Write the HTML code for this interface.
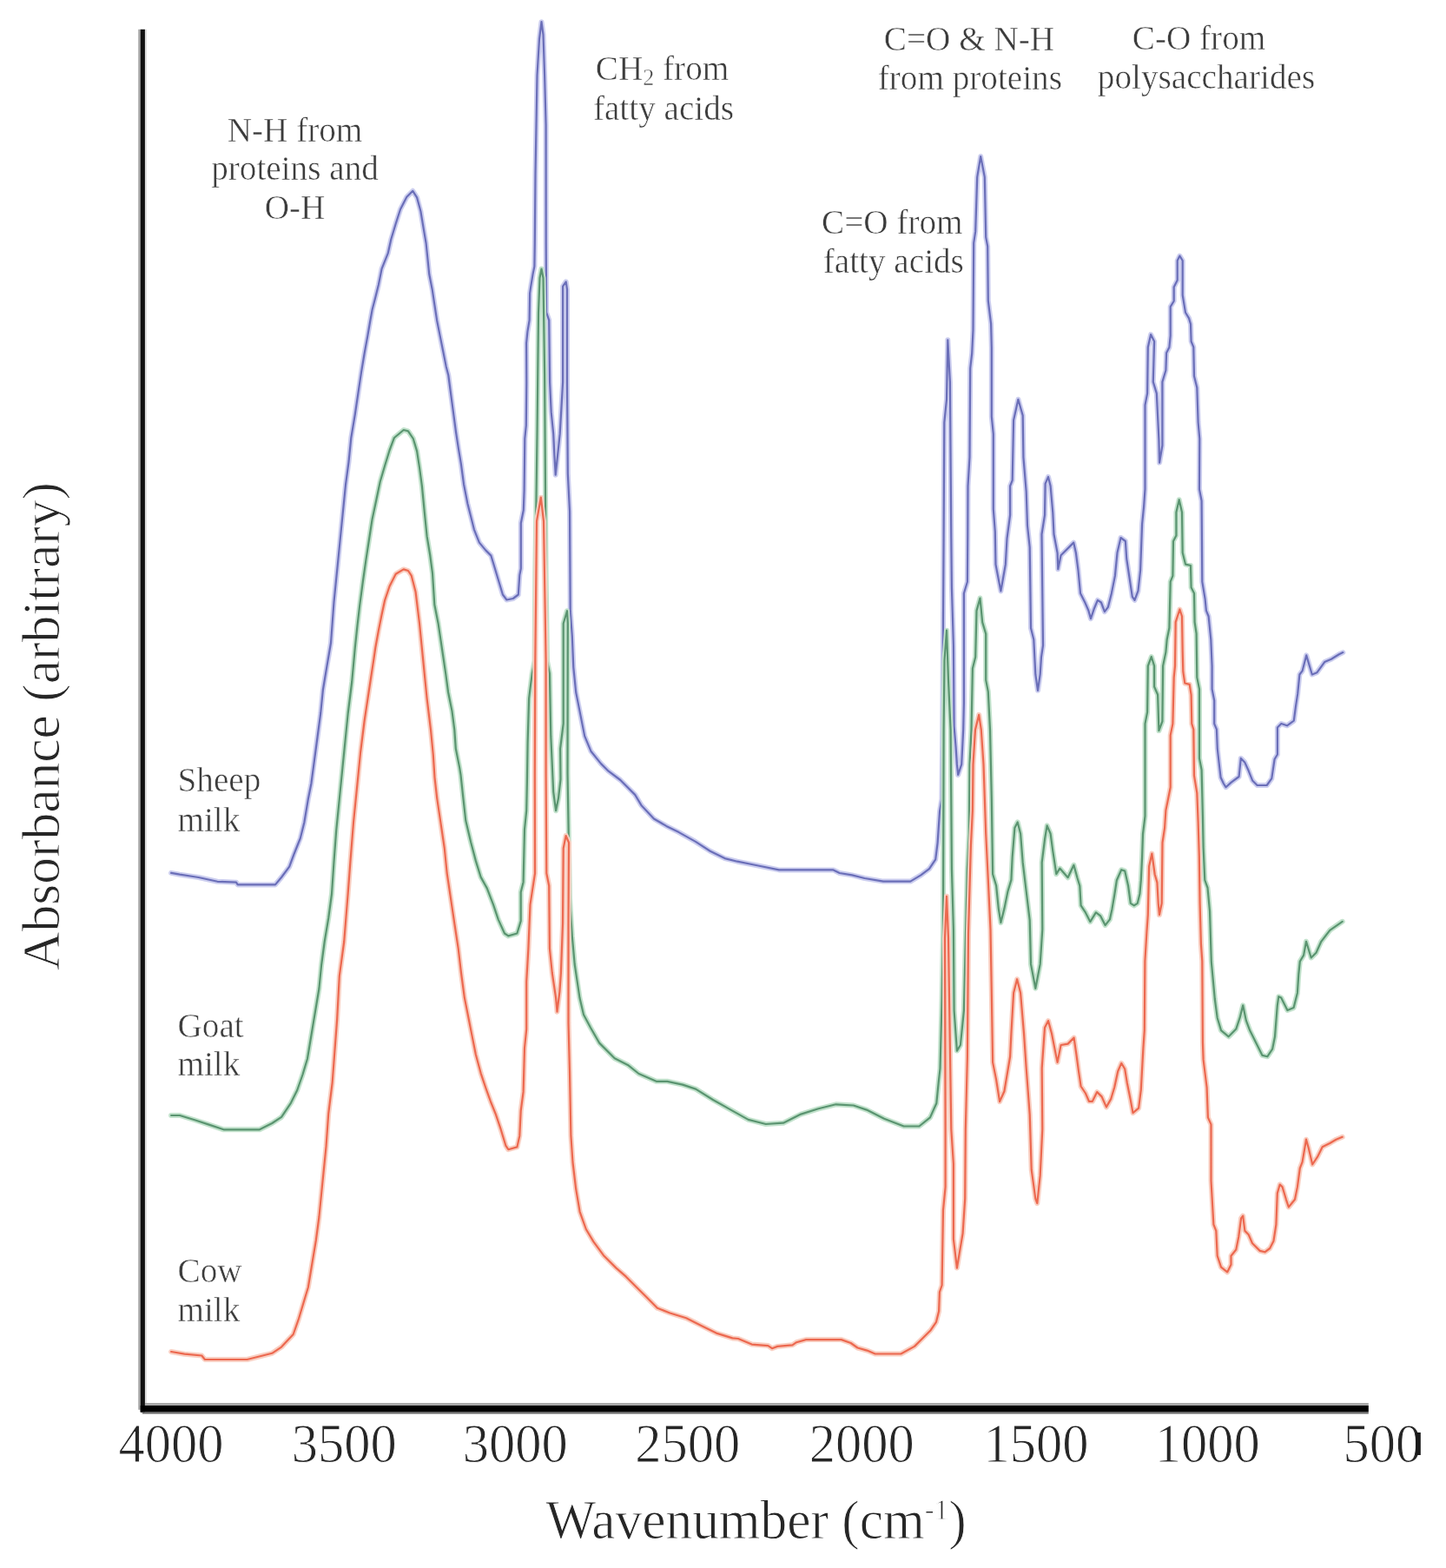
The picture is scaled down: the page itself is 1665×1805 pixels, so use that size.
<!DOCTYPE html>
<html><head><meta charset="utf-8"><title>FTIR spectra of milk</title>
<style>
html,body{margin:0;padding:0;background:#fff;}
body{width:1665px;height:1805px;overflow:hidden;}
svg{display:block;filter:blur(0.45px);}
text{font-family:'Liberation Serif', 'Times New Roman', serif;}
</style></head>
<body>
<svg width="1665" height="1805" viewBox="0 0 1665 1805">
<rect width="1665" height="1805" fill="#fff"/>
<polyline points="197.1,1004.9 207.0,1006.7 228.6,1010.0 250.3,1014.8 271.9,1015.7 273.7,1018.4 317.0,1018.4 324.0,1010.0 333.2,997.7 338.6,983.0 345.8,965.0 350.3,947.0 354.8,920.0 358.4,902.0 362.0,875.0 365.6,848.0 369.2,821.0 371.9,794.0 376.4,767.0 381.0,740.0 384.5,693.0 387.2,666.0 389.9,639.0 392.6,612.0 395.3,585.0 398.0,558.0 401.6,531.0 404.3,504.0 408.8,477.0 413.3,446.7 416.0,428.6 419.6,407.0 423.2,387.2 426.0,371.0 428.6,356.6 432.3,342.2 435.9,327.7 439.5,309.7 446.7,291.7 450.3,275.5 455.7,257.5 461.0,241.0 468.3,226.8 475.3,219.8 480.1,227.4 484.4,243.2 488.0,264.9 490.6,280.0 492.4,297.7 494.2,315.5 497.7,333.2 500.4,351.0 503.1,368.7 506.6,386.4 510.2,404.2 513.7,421.9 516.3,432.0 519.0,452.5 522.0,474.9 525.0,497.4 528.0,516.8 531.0,534.8 534.0,557.2 538.4,579.7 542.2,594.7 545.9,609.6 551.9,624.6 559.4,633.6 565.4,639.6 569.9,654.5 574.4,669.5 578.9,684.5 583.4,690.5 590.8,689.0 596.8,684.5 598.3,662.0 599.8,654.5 599.8,602.2 602.8,587.2 603.6,564.7 604.3,504.9 605.8,489.9 606.3,440.0 606.1,395.2 607.4,381.9 609.6,368.6 610.1,337.6 611.0,331.4 613.6,315.4 615.4,306.6 615.8,280.0 616.5,200.0 618.5,86.5 621.0,45.0 623.5,25.2 625.5,40.0 627.1,86.5 628.6,144.0 628.7,280.0 629.1,359.7 632.2,368.6 633.1,440.0 634.7,474.4 637.2,499.4 638.4,524.3 639.7,546.7 643.4,511.8 644.7,499.4 648.1,440.0 648.1,329.6 651.7,324.3 653.0,333.1 653.0,440.0 653.8,545.3 656.0,588.6 656.5,670.0 656.7,703.2 658.8,732.0 660.3,768.1 663.2,797.0 667.5,818.6 673.2,847.4 680.4,864.7 692.0,879.1 700.6,887.7 714.4,898.0 731.2,914.9 738.4,926.9 752.9,942.5 767.3,950.9 781.7,958.1 800.9,968.9 817.7,979.7 834.5,988.1 849.0,991.7 873.0,996.5 897.0,1001.4 959.5,1001.4 966.7,1005.0 981.1,1007.4 995.5,1011.0 1017.1,1014.6 1048.3,1014.6 1060.4,1007.4 1070.0,1000.2 1077.2,989.3 1079.6,970.1 1082.0,934.1 1084.4,919.7 1085.3,840.0 1086.0,716.4 1086.6,620.0 1087.3,486.4 1090.0,459.8 1091.3,391.3 1093.9,439.8 1095.3,620.0 1095.9,676.5 1097.9,743.0 1098.6,836.0 1100.6,860.0 1101.9,879.9 1103.2,891.9 1107.2,879.9 1109.2,840.0 1109.9,809.5 1109.9,683.0 1113.9,669.8 1114.3,615.0 1114.5,559.5 1116.5,526.3 1117.2,423.9 1119.2,406.6 1120.5,380.0 1121.2,279.7 1123.2,266.4 1125.2,203.9 1129.2,180.0 1133.8,203.9 1135.2,273.0 1137.2,283.7 1137.8,346.2 1141.1,372.8 1141.8,400.0 1141.8,479.7 1143.8,499.7 1143.8,586.1 1145.8,612.0 1146.5,649.9 1152.4,680.5 1157.8,649.9 1159.5,620.0 1163.1,592.8 1163.1,559.5 1165.7,552.9 1167.1,483.7 1172.4,459.8 1177.7,478.4 1178.4,526.3 1181.7,566.2 1183.0,605.0 1185.7,630.0 1187.0,723.0 1190.3,736.3 1192.3,776.2 1195.0,794.8 1197.7,776.2 1199.0,756.3 1201.0,743.0 1199.5,615.0 1203.0,592.8 1203.6,556.9 1207.0,548.9 1209.6,559.5 1212.3,590.1 1213.5,615.0 1217.6,636.6 1218.3,655.2 1221.6,639.3 1236.2,624.6 1238.9,636.6 1241.5,656.5 1244.0,682.9 1249.3,693.5 1253.3,702.8 1256.0,712.1 1260.0,700.2 1263.9,690.9 1267.9,693.5 1271.9,704.1 1275.9,698.8 1279.9,682.9 1283.9,662.9 1286.5,636.3 1290.5,619.0 1295.9,623.0 1297.2,643.0 1301.2,669.6 1303.8,686.9 1306.5,690.9 1310.5,680.2 1313.1,656.3 1315.1,603.1 1317.1,583.1 1318.5,563.2 1318.5,510.0 1318.5,466.2 1321.1,452.9 1321.8,399.7 1325.1,385.1 1329.1,393.0 1327.8,439.6 1331.8,452.9 1334.4,506.1 1335.1,532.6 1338.4,512.7 1338.4,439.6 1342.4,426.3 1343.1,406.3 1346.4,399.7 1347.7,386.4 1347.7,353.1 1351.7,346.5 1351.7,330.5 1355.7,322.6 1355.7,300.0 1358.4,294.6 1361.7,300.0 1361.7,339.8 1365.0,359.8 1369.0,366.4 1371.0,373.1 1371.6,393.0 1374.3,399.7 1375.0,432.9 1378.3,446.2 1379.6,486.1 1381.3,505.0 1381.0,563.2 1383.6,576.5 1384.3,669.6 1387.6,689.5 1388.9,702.8 1391.6,709.5 1394.3,736.1 1395.6,766.6 1395.6,793.2 1398.2,806.5 1398.2,833.1 1400.9,839.7 1401.8,862.0 1404.4,885.0 1405.6,895.0 1408.9,902.0 1411.5,906.2 1417.7,900.6 1426.6,894.0 1428.8,872.9 1433.2,877.4 1437.7,887.3 1442.1,898.4 1447.6,904.0 1458.7,904.0 1464.3,896.2 1467.6,874.0 1470.9,868.5 1470.9,837.5 1475.3,833.0 1482.0,835.3 1489.8,829.7 1492.0,813.1 1494.2,798.7 1496.4,776.5 1499.7,772.1 1504.2,754.4 1510.8,776.5 1516.3,774.3 1525.2,762.1 1532.9,758.8 1541.8,753.3 1546.3,751.1" fill="none" stroke="#ccceef" stroke-width="6" stroke-linejoin="round" stroke-linecap="round"/><polyline points="197.1,1004.9 207.0,1006.7 228.6,1010.0 250.3,1014.8 271.9,1015.7 273.7,1018.4 317.0,1018.4 324.0,1010.0 333.2,997.7 338.6,983.0 345.8,965.0 350.3,947.0 354.8,920.0 358.4,902.0 362.0,875.0 365.6,848.0 369.2,821.0 371.9,794.0 376.4,767.0 381.0,740.0 384.5,693.0 387.2,666.0 389.9,639.0 392.6,612.0 395.3,585.0 398.0,558.0 401.6,531.0 404.3,504.0 408.8,477.0 413.3,446.7 416.0,428.6 419.6,407.0 423.2,387.2 426.0,371.0 428.6,356.6 432.3,342.2 435.9,327.7 439.5,309.7 446.7,291.7 450.3,275.5 455.7,257.5 461.0,241.0 468.3,226.8 475.3,219.8 480.1,227.4 484.4,243.2 488.0,264.9 490.6,280.0 492.4,297.7 494.2,315.5 497.7,333.2 500.4,351.0 503.1,368.7 506.6,386.4 510.2,404.2 513.7,421.9 516.3,432.0 519.0,452.5 522.0,474.9 525.0,497.4 528.0,516.8 531.0,534.8 534.0,557.2 538.4,579.7 542.2,594.7 545.9,609.6 551.9,624.6 559.4,633.6 565.4,639.6 569.9,654.5 574.4,669.5 578.9,684.5 583.4,690.5 590.8,689.0 596.8,684.5 598.3,662.0 599.8,654.5 599.8,602.2 602.8,587.2 603.6,564.7 604.3,504.9 605.8,489.9 606.3,440.0 606.1,395.2 607.4,381.9 609.6,368.6 610.1,337.6 611.0,331.4 613.6,315.4 615.4,306.6 615.8,280.0 616.5,200.0 618.5,86.5 621.0,45.0 623.5,25.2 625.5,40.0 627.1,86.5 628.6,144.0 628.7,280.0 629.1,359.7 632.2,368.6 633.1,440.0 634.7,474.4 637.2,499.4 638.4,524.3 639.7,546.7 643.4,511.8 644.7,499.4 648.1,440.0 648.1,329.6 651.7,324.3 653.0,333.1 653.0,440.0 653.8,545.3 656.0,588.6 656.5,670.0 656.7,703.2 658.8,732.0 660.3,768.1 663.2,797.0 667.5,818.6 673.2,847.4 680.4,864.7 692.0,879.1 700.6,887.7 714.4,898.0 731.2,914.9 738.4,926.9 752.9,942.5 767.3,950.9 781.7,958.1 800.9,968.9 817.7,979.7 834.5,988.1 849.0,991.7 873.0,996.5 897.0,1001.4 959.5,1001.4 966.7,1005.0 981.1,1007.4 995.5,1011.0 1017.1,1014.6 1048.3,1014.6 1060.4,1007.4 1070.0,1000.2 1077.2,989.3 1079.6,970.1 1082.0,934.1 1084.4,919.7 1085.3,840.0 1086.0,716.4 1086.6,620.0 1087.3,486.4 1090.0,459.8 1091.3,391.3 1093.9,439.8 1095.3,620.0 1095.9,676.5 1097.9,743.0 1098.6,836.0 1100.6,860.0 1101.9,879.9 1103.2,891.9 1107.2,879.9 1109.2,840.0 1109.9,809.5 1109.9,683.0 1113.9,669.8 1114.3,615.0 1114.5,559.5 1116.5,526.3 1117.2,423.9 1119.2,406.6 1120.5,380.0 1121.2,279.7 1123.2,266.4 1125.2,203.9 1129.2,180.0 1133.8,203.9 1135.2,273.0 1137.2,283.7 1137.8,346.2 1141.1,372.8 1141.8,400.0 1141.8,479.7 1143.8,499.7 1143.8,586.1 1145.8,612.0 1146.5,649.9 1152.4,680.5 1157.8,649.9 1159.5,620.0 1163.1,592.8 1163.1,559.5 1165.7,552.9 1167.1,483.7 1172.4,459.8 1177.7,478.4 1178.4,526.3 1181.7,566.2 1183.0,605.0 1185.7,630.0 1187.0,723.0 1190.3,736.3 1192.3,776.2 1195.0,794.8 1197.7,776.2 1199.0,756.3 1201.0,743.0 1199.5,615.0 1203.0,592.8 1203.6,556.9 1207.0,548.9 1209.6,559.5 1212.3,590.1 1213.5,615.0 1217.6,636.6 1218.3,655.2 1221.6,639.3 1236.2,624.6 1238.9,636.6 1241.5,656.5 1244.0,682.9 1249.3,693.5 1253.3,702.8 1256.0,712.1 1260.0,700.2 1263.9,690.9 1267.9,693.5 1271.9,704.1 1275.9,698.8 1279.9,682.9 1283.9,662.9 1286.5,636.3 1290.5,619.0 1295.9,623.0 1297.2,643.0 1301.2,669.6 1303.8,686.9 1306.5,690.9 1310.5,680.2 1313.1,656.3 1315.1,603.1 1317.1,583.1 1318.5,563.2 1318.5,510.0 1318.5,466.2 1321.1,452.9 1321.8,399.7 1325.1,385.1 1329.1,393.0 1327.8,439.6 1331.8,452.9 1334.4,506.1 1335.1,532.6 1338.4,512.7 1338.4,439.6 1342.4,426.3 1343.1,406.3 1346.4,399.7 1347.7,386.4 1347.7,353.1 1351.7,346.5 1351.7,330.5 1355.7,322.6 1355.7,300.0 1358.4,294.6 1361.7,300.0 1361.7,339.8 1365.0,359.8 1369.0,366.4 1371.0,373.1 1371.6,393.0 1374.3,399.7 1375.0,432.9 1378.3,446.2 1379.6,486.1 1381.3,505.0 1381.0,563.2 1383.6,576.5 1384.3,669.6 1387.6,689.5 1388.9,702.8 1391.6,709.5 1394.3,736.1 1395.6,766.6 1395.6,793.2 1398.2,806.5 1398.2,833.1 1400.9,839.7 1401.8,862.0 1404.4,885.0 1405.6,895.0 1408.9,902.0 1411.5,906.2 1417.7,900.6 1426.6,894.0 1428.8,872.9 1433.2,877.4 1437.7,887.3 1442.1,898.4 1447.6,904.0 1458.7,904.0 1464.3,896.2 1467.6,874.0 1470.9,868.5 1470.9,837.5 1475.3,833.0 1482.0,835.3 1489.8,829.7 1492.0,813.1 1494.2,798.7 1496.4,776.5 1499.7,772.1 1504.2,754.4 1510.8,776.5 1516.3,774.3 1525.2,762.1 1532.9,758.8 1541.8,753.3 1546.3,751.1" fill="none" stroke="#6a6eb8" stroke-width="2.2" stroke-linejoin="round" stroke-linecap="round"/><polyline points="197.1,1284.0 207.0,1284.0 225.0,1289.5 241.3,1294.9 257.5,1300.3 298.9,1300.3 313.3,1293.0 324.1,1285.9 335.0,1269.6 342.2,1255.0 348.5,1237.0 353.9,1219.0 358.4,1192.0 362.9,1165.0 367.4,1138.0 370.1,1111.0 373.7,1084.0 378.2,1057.0 382.0,1029.0 384.5,992.0 387.2,956.0 390.8,920.0 394.4,884.0 398.0,848.0 400.7,821.0 405.2,785.0 408.8,745.5 411.5,720.0 414.2,696.8 417.8,669.8 421.4,644.6 425.0,621.0 428.6,597.7 433.2,576.0 437.7,554.5 443.0,536.5 448.5,518.5 453.9,504.0 464.7,495.0 470.0,496.3 475.8,505.0 480.1,519.4 483.0,538.1 485.9,559.7 488.7,588.6 491.6,617.4 495.2,639.0 498.0,660.0 500.3,696.0 504.6,717.7 508.9,746.5 513.2,775.3 516.1,797.0 520.5,818.6 523.3,840.2 524.8,861.8 529.1,883.4 530.5,892.0 533.4,918.8 536.3,944.8 542.1,969.3 547.8,990.9 553.6,1009.6 560.8,1022.6 568.0,1041.3 573.8,1058.6 581.0,1074.5 585.3,1077.4 595.4,1074.5 599.7,1060.1 599.7,1026.9 602.6,1015.4 604.0,954.9 606.2,933.2 606.9,900.0 607.6,854.6 609.1,804.1 610.5,792.6 612.7,775.3 615.6,760.9 616.3,660.0 618.5,500.0 620.0,360.0 621.5,320.0 623.5,309.5 625.5,320.0 627.1,430.0 628.6,660.0 630.0,760.9 632.9,775.3 634.3,847.4 637.2,911.6 640.1,933.2 643.0,918.8 645.5,897.0 645.1,861.8 648.7,833.0 648.7,717.7 653.0,703.2 653.8,717.7 653.5,890.0 654.5,947.7 656.0,1034.0 658.8,1077.4 661.7,1110.0 667.5,1148.8 672.0,1168.0 680.0,1183.0 690.1,1200.6 707.7,1218.3 722.9,1225.9 735.5,1236.0 755.7,1244.8 768.3,1244.8 786.0,1248.6 801.1,1253.6 821.3,1266.2 841.5,1277.6 861.6,1288.9 881.8,1294.0 902.0,1292.7 922.2,1282.6 942.4,1276.3 962.5,1271.3 982.7,1272.5 997.9,1277.6 1018.0,1287.7 1040.7,1296.5 1058.4,1296.5 1071.0,1286.4 1078.3,1270.0 1080.8,1245.0 1082.5,1230.0 1084.6,1149.8 1086.0,1070.0 1086.6,840.0 1087.5,760.0 1090.0,725.7 1092.0,783.0 1094.6,840.0 1095.9,1000.0 1097.9,1070.0 1098.6,1163.1 1101.9,1209.6 1105.9,1203.0 1109.9,1163.1 1112.0,1075.0 1113.9,999.6 1115.9,959.7 1116.5,880.0 1118.5,840.0 1119.9,769.6 1123.2,756.3 1124.5,703.1 1128.5,688.5 1131.2,716.4 1135.2,729.7 1135.2,782.9 1137.8,796.2 1140.0,840.0 1141.8,919.8 1143.1,1006.2 1147.1,1019.5 1149.8,1046.1 1152.4,1062.1 1156.4,1046.1 1160.4,1026.2 1164.4,1012.9 1165.7,986.3 1168.4,953.0 1171.7,946.4 1175.1,959.7 1177.7,992.9 1181.7,1026.2 1185.7,1059.4 1187.0,1109.9 1192.3,1137.8 1197.7,1109.9 1200.3,1070.0 1199.7,992.9 1203.0,966.3 1205.6,950.4 1209.6,959.7 1212.3,979.6 1216.3,1006.2 1220.3,999.6 1229.6,1010.2 1236.4,995.8 1240.4,1010.3 1243.3,1019.8 1244.6,1042.4 1249.9,1050.4 1255.3,1061.1 1261.9,1050.4 1267.2,1054.4 1272.6,1065.1 1277.9,1058.4 1280.5,1046.4 1283.2,1030.5 1285.9,1013.2 1291.2,1001.2 1295.2,1002.6 1299.1,1019.8 1301.8,1039.8 1305.8,1042.4 1309.8,1039.8 1312.4,1029.1 1313.8,1013.2 1315.1,986.6 1316.0,960.0 1318.5,939.5 1318.5,833.1 1321.1,819.8 1321.8,766.6 1325.8,756.0 1329.1,766.6 1329.1,790.5 1333.1,799.8 1334.4,841.1 1338.4,830.4 1339.1,766.6 1342.4,750.6 1343.7,736.1 1346.4,722.8 1347.7,669.6 1350.4,662.9 1351.0,623.0 1354.4,616.4 1354.4,589.8 1357.7,575.2 1361.0,589.8 1361.7,636.3 1365.0,649.6 1371.0,651.0 1371.6,676.2 1375.0,682.9 1375.6,716.1 1377.6,729.4 1378.3,779.9 1381.0,793.2 1381.0,873.0 1383.6,886.3 1384.9,939.5 1385.6,975.0 1387.3,1013.2 1390.5,1022.0 1393.0,1049.2 1394.8,1106.8 1398.8,1150.0 1401.7,1171.7 1406.0,1186.1 1414.7,1193.3 1423.3,1184.6 1427.6,1171.7 1431.2,1157.3 1434.8,1174.6 1439.1,1186.1 1446.3,1200.5 1453.5,1214.9 1459.3,1216.3 1465.1,1207.7 1468.0,1193.3 1470.8,1157.3 1472.3,1147.2 1475.2,1148.6 1482.4,1163.0 1489.6,1160.1 1493.9,1142.9 1495.3,1121.3 1496.8,1106.8 1501.1,1099.6 1504.0,1083.8 1509.7,1102.5 1515.5,1096.8 1521.3,1083.8 1531.3,1070.8 1545.7,1060.8" fill="none" stroke="#c2e2cc" stroke-width="6" stroke-linejoin="round" stroke-linecap="round"/><polyline points="197.1,1284.0 207.0,1284.0 225.0,1289.5 241.3,1294.9 257.5,1300.3 298.9,1300.3 313.3,1293.0 324.1,1285.9 335.0,1269.6 342.2,1255.0 348.5,1237.0 353.9,1219.0 358.4,1192.0 362.9,1165.0 367.4,1138.0 370.1,1111.0 373.7,1084.0 378.2,1057.0 382.0,1029.0 384.5,992.0 387.2,956.0 390.8,920.0 394.4,884.0 398.0,848.0 400.7,821.0 405.2,785.0 408.8,745.5 411.5,720.0 414.2,696.8 417.8,669.8 421.4,644.6 425.0,621.0 428.6,597.7 433.2,576.0 437.7,554.5 443.0,536.5 448.5,518.5 453.9,504.0 464.7,495.0 470.0,496.3 475.8,505.0 480.1,519.4 483.0,538.1 485.9,559.7 488.7,588.6 491.6,617.4 495.2,639.0 498.0,660.0 500.3,696.0 504.6,717.7 508.9,746.5 513.2,775.3 516.1,797.0 520.5,818.6 523.3,840.2 524.8,861.8 529.1,883.4 530.5,892.0 533.4,918.8 536.3,944.8 542.1,969.3 547.8,990.9 553.6,1009.6 560.8,1022.6 568.0,1041.3 573.8,1058.6 581.0,1074.5 585.3,1077.4 595.4,1074.5 599.7,1060.1 599.7,1026.9 602.6,1015.4 604.0,954.9 606.2,933.2 606.9,900.0 607.6,854.6 609.1,804.1 610.5,792.6 612.7,775.3 615.6,760.9 616.3,660.0 618.5,500.0 620.0,360.0 621.5,320.0 623.5,309.5 625.5,320.0 627.1,430.0 628.6,660.0 630.0,760.9 632.9,775.3 634.3,847.4 637.2,911.6 640.1,933.2 643.0,918.8 645.5,897.0 645.1,861.8 648.7,833.0 648.7,717.7 653.0,703.2 653.8,717.7 653.5,890.0 654.5,947.7 656.0,1034.0 658.8,1077.4 661.7,1110.0 667.5,1148.8 672.0,1168.0 680.0,1183.0 690.1,1200.6 707.7,1218.3 722.9,1225.9 735.5,1236.0 755.7,1244.8 768.3,1244.8 786.0,1248.6 801.1,1253.6 821.3,1266.2 841.5,1277.6 861.6,1288.9 881.8,1294.0 902.0,1292.7 922.2,1282.6 942.4,1276.3 962.5,1271.3 982.7,1272.5 997.9,1277.6 1018.0,1287.7 1040.7,1296.5 1058.4,1296.5 1071.0,1286.4 1078.3,1270.0 1080.8,1245.0 1082.5,1230.0 1084.6,1149.8 1086.0,1070.0 1086.6,840.0 1087.5,760.0 1090.0,725.7 1092.0,783.0 1094.6,840.0 1095.9,1000.0 1097.9,1070.0 1098.6,1163.1 1101.9,1209.6 1105.9,1203.0 1109.9,1163.1 1112.0,1075.0 1113.9,999.6 1115.9,959.7 1116.5,880.0 1118.5,840.0 1119.9,769.6 1123.2,756.3 1124.5,703.1 1128.5,688.5 1131.2,716.4 1135.2,729.7 1135.2,782.9 1137.8,796.2 1140.0,840.0 1141.8,919.8 1143.1,1006.2 1147.1,1019.5 1149.8,1046.1 1152.4,1062.1 1156.4,1046.1 1160.4,1026.2 1164.4,1012.9 1165.7,986.3 1168.4,953.0 1171.7,946.4 1175.1,959.7 1177.7,992.9 1181.7,1026.2 1185.7,1059.4 1187.0,1109.9 1192.3,1137.8 1197.7,1109.9 1200.3,1070.0 1199.7,992.9 1203.0,966.3 1205.6,950.4 1209.6,959.7 1212.3,979.6 1216.3,1006.2 1220.3,999.6 1229.6,1010.2 1236.4,995.8 1240.4,1010.3 1243.3,1019.8 1244.6,1042.4 1249.9,1050.4 1255.3,1061.1 1261.9,1050.4 1267.2,1054.4 1272.6,1065.1 1277.9,1058.4 1280.5,1046.4 1283.2,1030.5 1285.9,1013.2 1291.2,1001.2 1295.2,1002.6 1299.1,1019.8 1301.8,1039.8 1305.8,1042.4 1309.8,1039.8 1312.4,1029.1 1313.8,1013.2 1315.1,986.6 1316.0,960.0 1318.5,939.5 1318.5,833.1 1321.1,819.8 1321.8,766.6 1325.8,756.0 1329.1,766.6 1329.1,790.5 1333.1,799.8 1334.4,841.1 1338.4,830.4 1339.1,766.6 1342.4,750.6 1343.7,736.1 1346.4,722.8 1347.7,669.6 1350.4,662.9 1351.0,623.0 1354.4,616.4 1354.4,589.8 1357.7,575.2 1361.0,589.8 1361.7,636.3 1365.0,649.6 1371.0,651.0 1371.6,676.2 1375.0,682.9 1375.6,716.1 1377.6,729.4 1378.3,779.9 1381.0,793.2 1381.0,873.0 1383.6,886.3 1384.9,939.5 1385.6,975.0 1387.3,1013.2 1390.5,1022.0 1393.0,1049.2 1394.8,1106.8 1398.8,1150.0 1401.7,1171.7 1406.0,1186.1 1414.7,1193.3 1423.3,1184.6 1427.6,1171.7 1431.2,1157.3 1434.8,1174.6 1439.1,1186.1 1446.3,1200.5 1453.5,1214.9 1459.3,1216.3 1465.1,1207.7 1468.0,1193.3 1470.8,1157.3 1472.3,1147.2 1475.2,1148.6 1482.4,1163.0 1489.6,1160.1 1493.9,1142.9 1495.3,1121.3 1496.8,1106.8 1501.1,1099.6 1504.0,1083.8 1509.7,1102.5 1515.5,1096.8 1521.3,1083.8 1531.3,1070.8 1545.7,1060.8" fill="none" stroke="#5a9470" stroke-width="2.2" stroke-linejoin="round" stroke-linecap="round"/><polyline points="197.1,1556.0 212.4,1558.7 232.3,1560.5 235.9,1565.0 284.5,1565.0 302.5,1560.5 313.3,1557.8 324.1,1550.6 337.7,1536.0 344.0,1518.0 349.4,1500.0 354.8,1482.0 359.3,1455.0 363.8,1428.0 367.4,1401.0 370.1,1374.0 372.8,1347.0 375.5,1320.0 378.2,1282.0 382.7,1246.0 385.4,1210.0 388.1,1174.0 390.8,1123.7 396.2,1084.0 400.7,1028.0 403.4,992.0 407.0,947.0 410.6,911.0 415.1,866.0 419.6,830.0 425.0,794.0 430.5,758.0 432.3,745.5 435.9,725.7 439.5,707.7 443.0,691.4 448.5,675.0 455.7,660.8 464.7,655.4 470.0,657.0 473.7,662.6 478.6,681.6 483.0,717.7 487.3,760.9 491.6,804.1 496.0,840.2 498.8,869.0 500.5,895.0 503.2,918.8 507.5,947.7 511.8,976.5 514.7,1005.3 519.0,1034.1 523.3,1063.0 527.7,1091.8 531.0,1120.0 534.9,1148.8 539.2,1170.5 543.5,1192.1 547.8,1213.7 553.6,1235.3 559.4,1252.6 565.1,1268.5 570.9,1282.9 576.7,1300.2 582.4,1318.9 585.3,1323.2 595.4,1320.4 598.3,1307.4 599.7,1278.6 602.6,1256.9 604.0,1206.5 606.2,1184.9 606.2,1130.0 608.4,1091.8 610.5,1041.3 612.7,1026.9 616.0,1005.3 615.8,890.0 616.3,760.0 618.0,600.0 622.8,572.7 626.0,600.0 628.6,760.0 628.6,890.0 629.3,1005.3 632.2,1019.7 632.9,1091.8 635.8,1120.0 640.1,1148.8 641.5,1164.7 644.4,1141.6 645.9,1120.0 648.0,1063.0 648.7,976.5 651.6,962.0 655.0,970.0 654.5,1063.0 654.5,1177.7 656.0,1235.3 657.4,1307.4 659.5,1338.0 663.2,1368.8 667.6,1394.8 674.8,1415.0 683.4,1429.4 695.0,1445.2 709.4,1459.6 720.9,1469.7 732.4,1481.3 744.0,1492.8 756.9,1505.8 771.4,1511.5 790.1,1517.3 807.4,1525.9 824.7,1534.6 843.4,1540.4 850.0,1541.0 865.6,1547.6 884.4,1549.1 889.0,1552.2 895.3,1549.9 912.5,1548.3 917.1,1545.2 928.1,1542.1 968.7,1542.1 979.6,1546.0 987.4,1551.5 998.3,1554.6 1007.7,1558.5 1037.4,1558.5 1053.0,1549.9 1062.4,1540.5 1071.7,1531.2 1078.0,1521.8 1081.1,1509.3 1081.9,1487.4 1084.6,1479.5 1086.0,1393.1 1088.6,1366.5 1088.6,1300.0 1088.0,1080.0 1090.0,1031.8 1092.0,1080.0 1095.3,1300.0 1097.9,1339.9 1097.9,1426.3 1101.9,1459.6 1108.6,1419.7 1111.2,1379.8 1111.8,1300.0 1113.9,1216.3 1115.0,1075.0 1117.9,973.0 1119.9,933.1 1120.5,880.0 1123.0,840.0 1127.2,822.8 1129.8,840.0 1132.5,880.0 1135.2,959.7 1137.8,1012.9 1140.5,1070.0 1141.8,1143.1 1143.1,1222.9 1147.1,1242.9 1151.1,1268.1 1156.4,1256.2 1163.1,1216.3 1164.4,1189.7 1167.1,1143.1 1171.1,1127.2 1175.1,1143.1 1179.0,1189.7 1181.7,1229.6 1185.7,1282.8 1187.7,1346.5 1192.3,1379.8 1194.3,1385.1 1197.7,1353.2 1200.3,1300.0 1199.7,1229.6 1203.0,1183.0 1207.0,1175.1 1211.0,1189.7 1214.9,1209.6 1217.6,1222.9 1221.6,1203.0 1229.6,1201.6 1236.6,1194.6 1239.3,1213.2 1242.0,1233.2 1244.6,1250.5 1249.9,1258.5 1253.9,1267.8 1257.9,1267.8 1263.2,1257.1 1268.6,1262.4 1273.9,1274.4 1279.2,1265.1 1283.2,1251.8 1287.2,1233.2 1291.2,1223.9 1295.2,1230.5 1297.8,1246.5 1301.8,1266.4 1304.5,1281.1 1311.1,1275.7 1313.8,1254.5 1316.4,1206.6 1317.8,1186.1 1318.4,1106.3 1320.4,1073.0 1321.8,1053.1 1323.1,997.2 1326.4,982.6 1329.7,1006.5 1332.4,1015.9 1333.7,1039.8 1335.0,1053.1 1337.7,1039.8 1338.5,970.0 1341.1,952.8 1342.4,932.8 1345.1,919.5 1347.7,906.2 1347.7,846.4 1350.4,833.1 1351.7,779.9 1353.0,766.6 1353.7,716.1 1358.4,701.5 1361.0,709.5 1361.7,750.0 1362.3,773.2 1364.3,786.5 1369.7,787.9 1371.6,799.8 1372.3,833.1 1374.3,839.7 1375.0,892.9 1378.3,912.9 1379.6,946.1 1380.8,985.0 1381.6,1039.8 1382.9,1086.3 1384.3,1106.3 1384.9,1200.0 1385.6,1219.9 1389.6,1251.8 1390.9,1286.4 1394.5,1294.4 1394.5,1359.2 1397.4,1409.6 1400.3,1416.9 1401.7,1445.7 1406.0,1458.6 1413.2,1464.4 1417.5,1455.7 1417.5,1445.7 1423.3,1438.5 1426.2,1424.0 1429.1,1402.4 1431.2,1399.6 1433.4,1416.9 1437.7,1421.2 1442.0,1431.3 1450.7,1439.9 1456.4,1441.3 1462.2,1437.0 1466.5,1428.4 1469.4,1409.6 1470.8,1373.6 1473.7,1363.5 1476.6,1366.4 1480.9,1380.8 1483.8,1389.5 1491.0,1380.8 1493.9,1366.4 1496.8,1344.8 1499.6,1337.6 1504.0,1311.7 1506.8,1321.8 1511.2,1340.5 1516.9,1331.9 1522.7,1320.3 1531.3,1316.0 1538.5,1311.7 1545.7,1308.8" fill="none" stroke="#f9cfc2" stroke-width="6" stroke-linejoin="round" stroke-linecap="round"/><polyline points="197.1,1556.0 212.4,1558.7 232.3,1560.5 235.9,1565.0 284.5,1565.0 302.5,1560.5 313.3,1557.8 324.1,1550.6 337.7,1536.0 344.0,1518.0 349.4,1500.0 354.8,1482.0 359.3,1455.0 363.8,1428.0 367.4,1401.0 370.1,1374.0 372.8,1347.0 375.5,1320.0 378.2,1282.0 382.7,1246.0 385.4,1210.0 388.1,1174.0 390.8,1123.7 396.2,1084.0 400.7,1028.0 403.4,992.0 407.0,947.0 410.6,911.0 415.1,866.0 419.6,830.0 425.0,794.0 430.5,758.0 432.3,745.5 435.9,725.7 439.5,707.7 443.0,691.4 448.5,675.0 455.7,660.8 464.7,655.4 470.0,657.0 473.7,662.6 478.6,681.6 483.0,717.7 487.3,760.9 491.6,804.1 496.0,840.2 498.8,869.0 500.5,895.0 503.2,918.8 507.5,947.7 511.8,976.5 514.7,1005.3 519.0,1034.1 523.3,1063.0 527.7,1091.8 531.0,1120.0 534.9,1148.8 539.2,1170.5 543.5,1192.1 547.8,1213.7 553.6,1235.3 559.4,1252.6 565.1,1268.5 570.9,1282.9 576.7,1300.2 582.4,1318.9 585.3,1323.2 595.4,1320.4 598.3,1307.4 599.7,1278.6 602.6,1256.9 604.0,1206.5 606.2,1184.9 606.2,1130.0 608.4,1091.8 610.5,1041.3 612.7,1026.9 616.0,1005.3 615.8,890.0 616.3,760.0 618.0,600.0 622.8,572.7 626.0,600.0 628.6,760.0 628.6,890.0 629.3,1005.3 632.2,1019.7 632.9,1091.8 635.8,1120.0 640.1,1148.8 641.5,1164.7 644.4,1141.6 645.9,1120.0 648.0,1063.0 648.7,976.5 651.6,962.0 655.0,970.0 654.5,1063.0 654.5,1177.7 656.0,1235.3 657.4,1307.4 659.5,1338.0 663.2,1368.8 667.6,1394.8 674.8,1415.0 683.4,1429.4 695.0,1445.2 709.4,1459.6 720.9,1469.7 732.4,1481.3 744.0,1492.8 756.9,1505.8 771.4,1511.5 790.1,1517.3 807.4,1525.9 824.7,1534.6 843.4,1540.4 850.0,1541.0 865.6,1547.6 884.4,1549.1 889.0,1552.2 895.3,1549.9 912.5,1548.3 917.1,1545.2 928.1,1542.1 968.7,1542.1 979.6,1546.0 987.4,1551.5 998.3,1554.6 1007.7,1558.5 1037.4,1558.5 1053.0,1549.9 1062.4,1540.5 1071.7,1531.2 1078.0,1521.8 1081.1,1509.3 1081.9,1487.4 1084.6,1479.5 1086.0,1393.1 1088.6,1366.5 1088.6,1300.0 1088.0,1080.0 1090.0,1031.8 1092.0,1080.0 1095.3,1300.0 1097.9,1339.9 1097.9,1426.3 1101.9,1459.6 1108.6,1419.7 1111.2,1379.8 1111.8,1300.0 1113.9,1216.3 1115.0,1075.0 1117.9,973.0 1119.9,933.1 1120.5,880.0 1123.0,840.0 1127.2,822.8 1129.8,840.0 1132.5,880.0 1135.2,959.7 1137.8,1012.9 1140.5,1070.0 1141.8,1143.1 1143.1,1222.9 1147.1,1242.9 1151.1,1268.1 1156.4,1256.2 1163.1,1216.3 1164.4,1189.7 1167.1,1143.1 1171.1,1127.2 1175.1,1143.1 1179.0,1189.7 1181.7,1229.6 1185.7,1282.8 1187.7,1346.5 1192.3,1379.8 1194.3,1385.1 1197.7,1353.2 1200.3,1300.0 1199.7,1229.6 1203.0,1183.0 1207.0,1175.1 1211.0,1189.7 1214.9,1209.6 1217.6,1222.9 1221.6,1203.0 1229.6,1201.6 1236.6,1194.6 1239.3,1213.2 1242.0,1233.2 1244.6,1250.5 1249.9,1258.5 1253.9,1267.8 1257.9,1267.8 1263.2,1257.1 1268.6,1262.4 1273.9,1274.4 1279.2,1265.1 1283.2,1251.8 1287.2,1233.2 1291.2,1223.9 1295.2,1230.5 1297.8,1246.5 1301.8,1266.4 1304.5,1281.1 1311.1,1275.7 1313.8,1254.5 1316.4,1206.6 1317.8,1186.1 1318.4,1106.3 1320.4,1073.0 1321.8,1053.1 1323.1,997.2 1326.4,982.6 1329.7,1006.5 1332.4,1015.9 1333.7,1039.8 1335.0,1053.1 1337.7,1039.8 1338.5,970.0 1341.1,952.8 1342.4,932.8 1345.1,919.5 1347.7,906.2 1347.7,846.4 1350.4,833.1 1351.7,779.9 1353.0,766.6 1353.7,716.1 1358.4,701.5 1361.0,709.5 1361.7,750.0 1362.3,773.2 1364.3,786.5 1369.7,787.9 1371.6,799.8 1372.3,833.1 1374.3,839.7 1375.0,892.9 1378.3,912.9 1379.6,946.1 1380.8,985.0 1381.6,1039.8 1382.9,1086.3 1384.3,1106.3 1384.9,1200.0 1385.6,1219.9 1389.6,1251.8 1390.9,1286.4 1394.5,1294.4 1394.5,1359.2 1397.4,1409.6 1400.3,1416.9 1401.7,1445.7 1406.0,1458.6 1413.2,1464.4 1417.5,1455.7 1417.5,1445.7 1423.3,1438.5 1426.2,1424.0 1429.1,1402.4 1431.2,1399.6 1433.4,1416.9 1437.7,1421.2 1442.0,1431.3 1450.7,1439.9 1456.4,1441.3 1462.2,1437.0 1466.5,1428.4 1469.4,1409.6 1470.8,1373.6 1473.7,1363.5 1476.6,1366.4 1480.9,1380.8 1483.8,1389.5 1491.0,1380.8 1493.9,1366.4 1496.8,1344.8 1499.6,1337.6 1504.0,1311.7 1506.8,1321.8 1511.2,1340.5 1516.9,1331.9 1522.7,1320.3 1531.3,1316.0 1538.5,1311.7 1545.7,1308.8" fill="none" stroke="#ec684f" stroke-width="2.2" stroke-linejoin="round" stroke-linecap="round"/>

<rect x="159.2" y="33.8" width="2.6" height="1589" fill="#a8a8a8"/>
<rect x="166.6" y="33.8" width="2.4" height="1582" fill="#e0e0e0"/>
<rect x="161.7" y="33.8" width="5.2" height="1592" fill="#111"/>
<rect x="167" y="1615" width="1408.8" height="3" fill="#a8a8a8"/>
<rect x="163.9" y="1625.2" width="1411.9" height="2.4" fill="#707070"/>
<rect x="161.7" y="1618" width="1414.1" height="7.3" fill="#000"/>

<text transform="translate(339.5,163) scale(1,1.04)" text-anchor="middle" font-size="39.2" fill="#3c3c3c" stroke="#fff" stroke-width="0.5">N-H from</text><text transform="translate(339.5,207.3) scale(1,1.04)" text-anchor="middle" font-size="39.2" fill="#3c3c3c" stroke="#fff" stroke-width="0.5">proteins and</text><text transform="translate(339.5,252.4) scale(1,1.04)" text-anchor="middle" font-size="39.2" fill="#3c3c3c" stroke="#fff" stroke-width="0.5">O-H</text><text transform="translate(762.5,92.2) scale(1,1.04)" text-anchor="middle" font-size="39.2" fill="#3c3c3c" stroke="#fff" stroke-width="0.5">CH<tspan font-size="26" dy="6">2</tspan><tspan dy="-6"> from</tspan></text><text transform="translate(764,138.3) scale(1,1.04)" text-anchor="middle" font-size="39.2" fill="#3c3c3c" stroke="#fff" stroke-width="0.5">fatty acids</text><text transform="translate(1116,57.5) scale(1,1.04)" text-anchor="middle" font-size="39.2" fill="#3c3c3c" stroke="#fff" stroke-width="0.5">C=O &amp; N-H</text><text transform="translate(1116.8,102.9) scale(1,1.04)" text-anchor="middle" font-size="39.2" fill="#3c3c3c" stroke="#fff" stroke-width="0.5">from proteins</text><text transform="translate(1380.5,57) scale(1,1.04)" text-anchor="middle" font-size="39.2" fill="#3c3c3c" stroke="#fff" stroke-width="0.5">C-O from</text><text transform="translate(1389,102.4) scale(1,1.04)" text-anchor="middle" font-size="39.2" fill="#3c3c3c" stroke="#fff" stroke-width="0.5">polysaccharides</text><text transform="translate(1027.3,269) scale(1,1.04)" text-anchor="middle" font-size="39.2" fill="#3c3c3c" stroke="#fff" stroke-width="0.5">C=O from</text><text transform="translate(1028.8,313.5) scale(1,1.04)" text-anchor="middle" font-size="39.2" fill="#3c3c3c" stroke="#fff" stroke-width="0.5">fatty acids</text><text transform="translate(204.5,910.5) scale(1,1.04)" text-anchor="start" font-size="39.2" fill="#3c3c3c" stroke="#fff" stroke-width="0.5">Sheep</text><text transform="translate(204.5,957) scale(1,1.04)" text-anchor="start" font-size="39.2" fill="#3c3c3c" stroke="#fff" stroke-width="0.5">milk</text><text transform="translate(204.5,1193.7) scale(1,1.04)" text-anchor="start" font-size="39.2" fill="#3c3c3c" stroke="#fff" stroke-width="0.5">Goat</text><text transform="translate(204.5,1237.8) scale(1,1.04)" text-anchor="start" font-size="39.2" fill="#3c3c3c" stroke="#fff" stroke-width="0.5">milk</text><text transform="translate(204.5,1476) scale(1,1.04)" text-anchor="start" font-size="39.2" fill="#3c3c3c" stroke="#fff" stroke-width="0.5">Cow</text><text transform="translate(204.5,1521) scale(1,1.04)" text-anchor="start" font-size="39.2" fill="#3c3c3c" stroke="#fff" stroke-width="0.5">milk</text><text transform="translate(197,1683.3) scale(1,1.06)" text-anchor="middle" font-size="60.5" fill="#262626" stroke="#fff" stroke-width="0.9">4000</text><text transform="translate(396.3,1683.3) scale(1,1.06)" text-anchor="middle" font-size="60.5" fill="#262626" stroke="#fff" stroke-width="0.9">3500</text><text transform="translate(593.3,1683.3) scale(1,1.06)" text-anchor="middle" font-size="60.5" fill="#262626" stroke="#fff" stroke-width="0.9">3000</text><text transform="translate(791.8,1683.3) scale(1,1.06)" text-anchor="middle" font-size="60.5" fill="#262626" stroke="#fff" stroke-width="0.9">2500</text><text transform="translate(992.3,1683.3) scale(1,1.06)" text-anchor="middle" font-size="60.5" fill="#262626" stroke="#fff" stroke-width="0.9">2000</text><text transform="translate(1193,1683.3) scale(1,1.06)" text-anchor="middle" font-size="60.5" fill="#262626" stroke="#fff" stroke-width="0.9">1500</text><text transform="translate(1390.2,1683.3) scale(1,1.06)" text-anchor="middle" font-size="60.5" fill="#262626" stroke="#fff" stroke-width="0.9">1000</text><text transform="translate(1591.8,1683.3) scale(1,1.06)" text-anchor="middle" font-size="60.5" fill="#262626" stroke="#fff" stroke-width="0.9">500</text><text transform="translate(870.5,1771) scale(1,1.04)" text-anchor="middle" font-size="61.4" fill="#262626" stroke="#fff" stroke-width="0.9">Wavenumber (cm<tspan font-size="33" dy="-21">-1</tspan><tspan dy="21">)</tspan></text>
<rect x="1630" y="1649" width="5.8" height="26" fill="#1a1a1a"/>
<text transform="translate(67.5,1117) rotate(-90)" font-size="61" fill="#262626" stroke="#fff" stroke-width="0.9" textLength="562" lengthAdjust="spacingAndGlyphs">Absorbance (arbitrary)</text>
</svg>
</body></html>
